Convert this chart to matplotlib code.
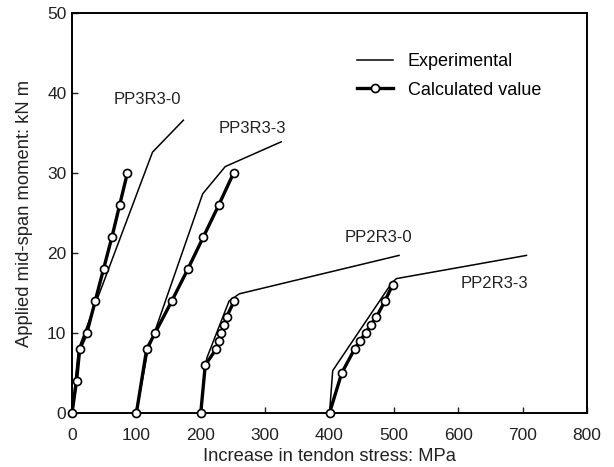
import matplotlib
matplotlib.use("Agg")
import matplotlib.pyplot as plt

plt.rcParams['font.family'] = ['Liberation Sans', 'DejaVu Sans']

# Experimental curves (x: MPa, y: kN m)
exp_pp3r3_0_x = [0, 10, 125, 173]
exp_pp3r3_0_y = [0, 8, 32.6, 36.6]
exp_pp3r3_3_x = [100, 117, 203, 238, 325]
exp_pp3r3_3_y = [0, 7.5, 27.4, 30.8, 33.9]
exp_pp2r3_0_x = [200, 207, 210, 244, 260, 508]
exp_pp2r3_0_y = [0, 6, 7, 14, 14.9, 19.7]
exp_pp2r3_3_x = [400, 405, 497, 504, 706]
exp_pp2r3_3_y = [0, 5.3, 16.3, 16.8, 19.7]

# Calculated values
cal_pp3r3_0_x = [0, 7, 12, 23, 36, 49, 62, 74, 86]
cal_pp3r3_0_y = [0, 4, 8, 10, 14, 18, 22, 26, 30]
cal_pp3r3_3_x = [100, 116, 129, 155, 180, 204, 228, 251]
cal_pp3r3_3_y = [0, 8, 10, 14, 18, 22, 26, 30]
cal_pp2r3_0_x = [200, 207, 224, 228, 232, 236, 240, 252]
cal_pp2r3_0_y = [0, 6, 8, 9, 10, 11, 12, 14]
cal_pp2r3_3_x = [400, 419, 439, 447, 456, 464, 473, 486, 498]
cal_pp2r3_3_y = [0, 5, 8, 9, 10, 11, 12, 14, 16]

labels = ["PP3R3-0", "PP3R3-3", "PP2R3-0", "PP2R3-3"]
label_x = [64, 227, 424, 603]
label_y = [39.2, 35.6, 22.0, 16.2]

x_ticks = [0, 100, 200, 300, 400, 500, 600, 700, 800]
y_ticks = [0, 10, 20, 30, 40, 50]

fig = plt.figure(figsize=(6.14, 4.67), dpi=100)
ax = fig.add_axes([0.1173, 0.1156, 0.8387, 0.8566])

exp_sets = [(exp_pp3r3_0_x, exp_pp3r3_0_y), (exp_pp3r3_3_x, exp_pp3r3_3_y),
            (exp_pp2r3_0_x, exp_pp2r3_0_y), (exp_pp2r3_3_x, exp_pp2r3_3_y)]
cal_sets = [(cal_pp3r3_0_x, cal_pp3r3_0_y), (cal_pp3r3_3_x, cal_pp3r3_3_y),
            (cal_pp2r3_0_x, cal_pp2r3_0_y), (cal_pp2r3_3_x, cal_pp2r3_3_y)]

for i, (x, y) in enumerate(exp_sets):
    ax.plot(x, y, color='black', lw=1.1, clip_on=False,
            label='Experimental' if i == 0 else None)
for i, (x, y) in enumerate(cal_sets):
    ax.plot(x, y, color='black', lw=2.4, marker='o', ms=5.8,
            mfc='white', mec='black', mew=1.2, clip_on=False, zorder=3,
            label='Calculated value' if i == 0 else None)

for t, lx, ly in zip(labels, label_x, label_y):
    ax.text(lx, ly, t, fontsize=12, va='center', ha='left', color='#222222')

ax.set_xlim(0, 800)
ax.set_ylim(0, 50)
ax.set_xticks(x_ticks)
ax.set_yticks(y_ticks)
ax.tick_params(direction='in', length=4, width=1, labelsize=12.5,
               colors='#222222')
ax.tick_params(axis='x', pad=10.5)
ax.tick_params(axis='y', pad=4)
for s in ax.spines.values():
    s.set_linewidth(1.4)
ax.set_xlabel("Increase in tendon stress: MPa", fontsize=13.2, color='#222222', labelpad=4)
ax.set_ylabel("Applied mid-span moment: kN m", fontsize=13.2, color='#222222', labelpad=10)

leg = ax.legend(loc='upper left', bbox_to_anchor=(0.54, 0.917), frameon=False,
                fontsize=13, handlelength=2.0, handletextpad=0.8,
                labelspacing=0.62, borderaxespad=0)

fig.savefig("out.png", dpi=100)
